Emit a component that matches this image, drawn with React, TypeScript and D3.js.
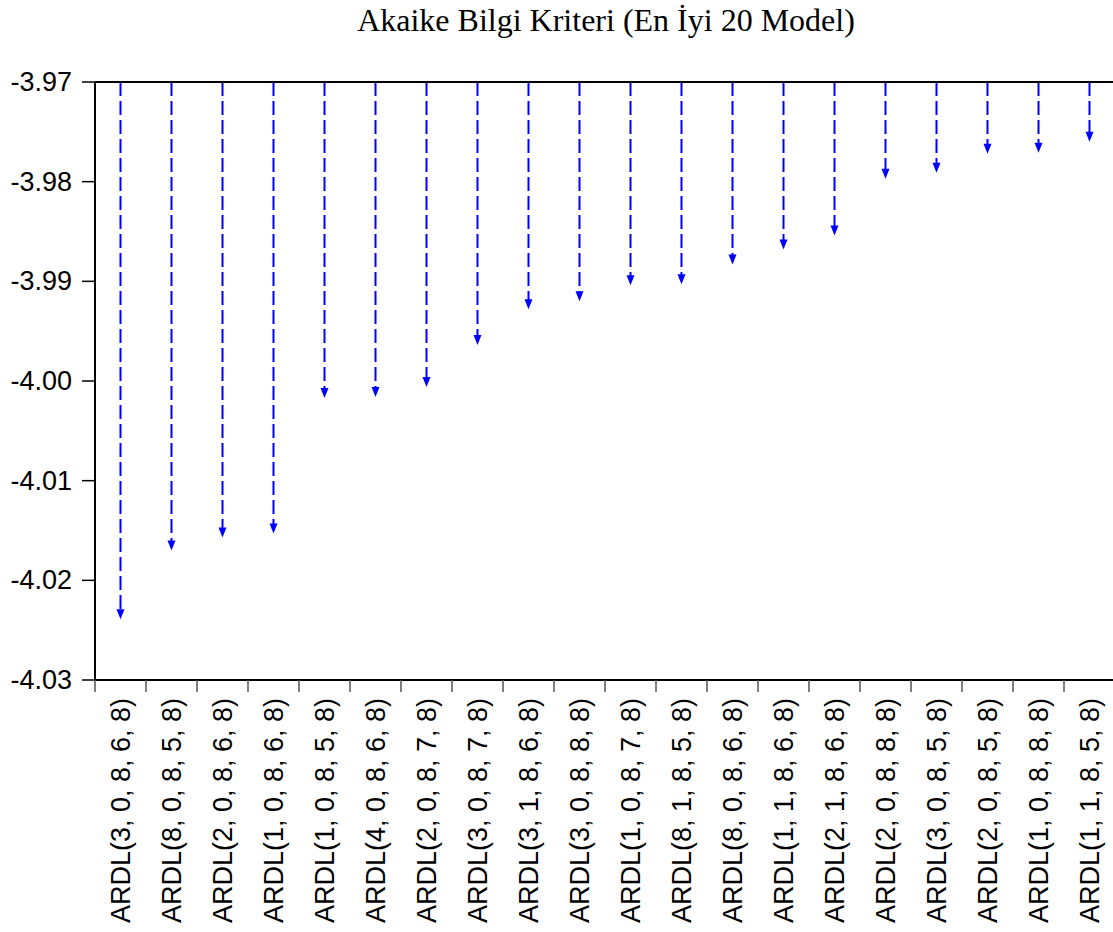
import React from "react";
import * as d3 from "d3";

const models = [
  "ARDL(3, 0, 8, 6, 8)", "ARDL(8, 0, 8, 5, 8)", "ARDL(2, 0, 8, 6, 8)", "ARDL(1, 0, 8, 6, 8)",
  "ARDL(1, 0, 8, 5, 8)", "ARDL(4, 0, 8, 6, 8)", "ARDL(2, 0, 8, 7, 8)", "ARDL(3, 0, 8, 7, 8)",
  "ARDL(3, 1, 8, 6, 8)", "ARDL(3, 0, 8, 8, 8)", "ARDL(1, 0, 8, 7, 8)", "ARDL(8, 1, 8, 5, 8)",
  "ARDL(8, 0, 8, 6, 8)", "ARDL(1, 1, 8, 6, 8)", "ARDL(2, 1, 8, 6, 8)", "ARDL(2, 0, 8, 8, 8)",
  "ARDL(3, 0, 8, 5, 8)", "ARDL(2, 0, 8, 5, 8)", "ARDL(1, 0, 8, 8, 8)", "ARDL(1, 1, 8, 5, 8)",
];
const aicValues = [
  -4.0239, -4.0170, -4.0157, -4.0153, -4.0017, -4.0016, -4.0006, -3.9964, -3.9928, -3.9920,
  -3.9904, -3.9903, -3.9883, -3.9868, -3.9854, -3.9797, -3.9791, -3.9772, -3.9771, -3.9760,
];
const yTicks = [-3.97, -3.98, -3.99, -4.0, -4.01, -4.02, -4.03];
const title = "Akaike Bilgi Kriteri (En İyi 20 Model)";

export default function App() {
  const W = 1113, H = 932;
  const left = 95, right = 1115, top = 82, bottom = 680;
  const x = d3.scaleBand<string>().domain(models).range([left, right]);
  const y = d3.scaleLinear().domain([-4.03, -3.97]).range([bottom, top]);
  const sans = "Arial, 'Liberation Sans', sans-serif";
  const fmt = (t: number) => d3.format(".2f")(t).replace("\u2212", "-");
  const headH = 10, headW = 4;
  return (
    <svg width={W} height={H} style={{ position: "absolute", left: 0, top: 0, background: "#fff" }}>
      <text x={606} y={31} textAnchor="middle" fontFamily="'Times New Roman', 'Liberation Serif', serif" fontSize={32}>{title}</text>
      {models.map((m, i) => {
        const cx = x(m)! + x.bandwidth() / 2;
        const tip = y(aicValues[i]);
        return (
          <g key={m}>
            <line x1={cx} x2={cx} y1={top} y2={tip - headH + 1} stroke="#0000ff" strokeWidth={2} strokeDasharray="14,5" />
            <path d={`M${cx - headW},${tip - headH} L${cx + headW},${tip - headH} L${cx},${tip} Z`} fill="#0000ff" />
          </g>
        );
      })}
      <line x1={left} x2={right} y1={top} y2={top} stroke="#000" strokeWidth={2} />
      <line x1={left} x2={left} y1={top} y2={bottom} stroke="#000" strokeWidth={2} />
      <line x1={left} x2={right} y1={bottom} y2={bottom} stroke="#000" strokeWidth={2} />
      <line x1={right} x2={right} y1={top} y2={bottom} stroke="#000" strokeWidth={2} />
      {yTicks.map((t) => (
        <g key={t}>
          <line x1={82} x2={left} y1={y(t)} y2={y(t)} stroke="#000" strokeWidth={1.5} />
          <text x={72} y={y(t)} textAnchor="end" dominantBaseline="central" fontFamily={sans} fontSize={27}>{fmt(t)}</text>
        </g>
      ))}
      {models.map((m) => (
        <line key={"t" + m} x1={x(m)!} x2={x(m)!} y1={bottom} y2={692} stroke="#555" strokeWidth={1.5} />
      ))}
      {models.map((m) => {
        const cx = x(m)! + x.bandwidth() / 2;
        return (
          <text key={"l" + m} transform={`translate(${cx},698) rotate(-90)`} textAnchor="end" dominantBaseline="central" fontFamily={sans} fontSize={27}>{m}</text>
        );
      })}
    </svg>
  );
}
